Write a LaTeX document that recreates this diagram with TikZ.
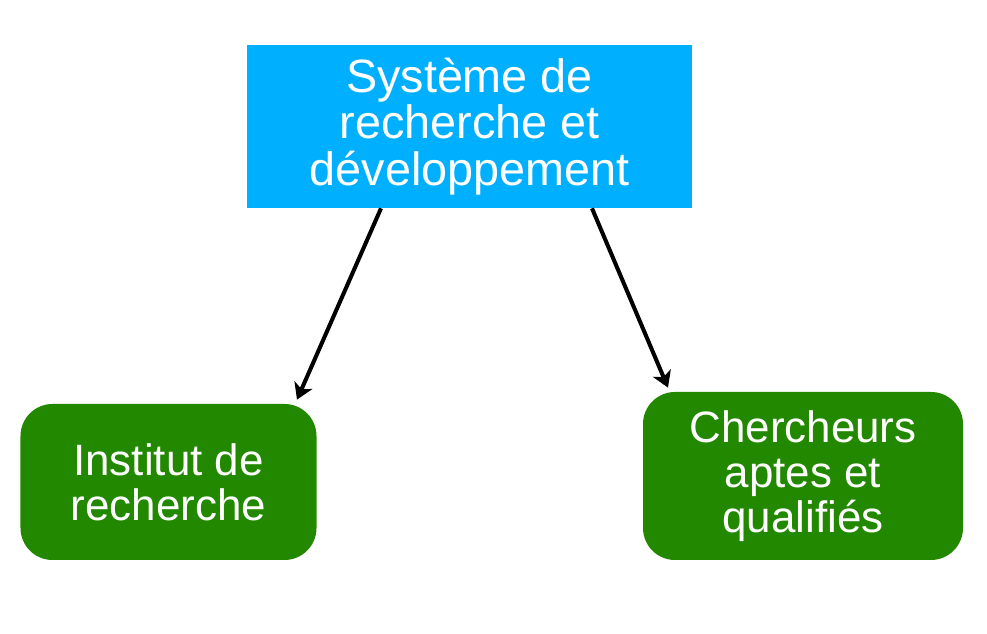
\documentclass[tikz,border=0pt]{standalone}
\usepackage{fontspec}
\setmainfont{Liberation Sans}
\usetikzlibrary{arrows.meta}

\definecolor{sysblue}{HTML}{00B0FF}
\definecolor{boxgreen}{HTML}{228800}

\tikzset{
    sysbox/.style={fill=sysblue, text=white, align=center,
        minimum width=8.9cm, minimum height=3.26cm, inner sep=0pt,
        font=\fontsize{26.6}{26.4}\selectfont},
    greenbox/.style={fill=boxgreen, text=white, align=center,
        rounded corners=0.64cm, inner sep=0pt,
        font=\fontsize{25}{25.5}\selectfont},
    linkarrow/.style={-{Stealth[length=9pt,width=11pt,inset=2.5pt]}, line width=2.3pt}
}

\begin{document}
\begin{tikzpicture}

    % Fix the page size
    \useasboundingbox (0,0) rectangle (19.74,12.68);

    % Boxes
    \node[sysbox] (sys) at (9.39,10.15) {Système de\\recherche et\\développement};
    \node[greenbox, minimum width=5.92cm, minimum height=3.12cm] (inst) at (3.37,3.04) {Institut de\\recherche};
    \node[greenbox, minimum width=6.4cm, minimum height=3.36cm] (cher) at (16.06,3.16) {Chercheurs\\aptes et\\qualifiés};

    % Arrows
    \draw[linkarrow] ([xshift=-1.77cm]sys.south) -- ([xshift=2.57cm,yshift=0.08cm]inst.north);
    \draw[linkarrow] ([xshift=2.45cm]sys.south) -- ([xshift=-2.70cm,yshift=0.08cm]cher.north);

\end{tikzpicture}
\end{document}
